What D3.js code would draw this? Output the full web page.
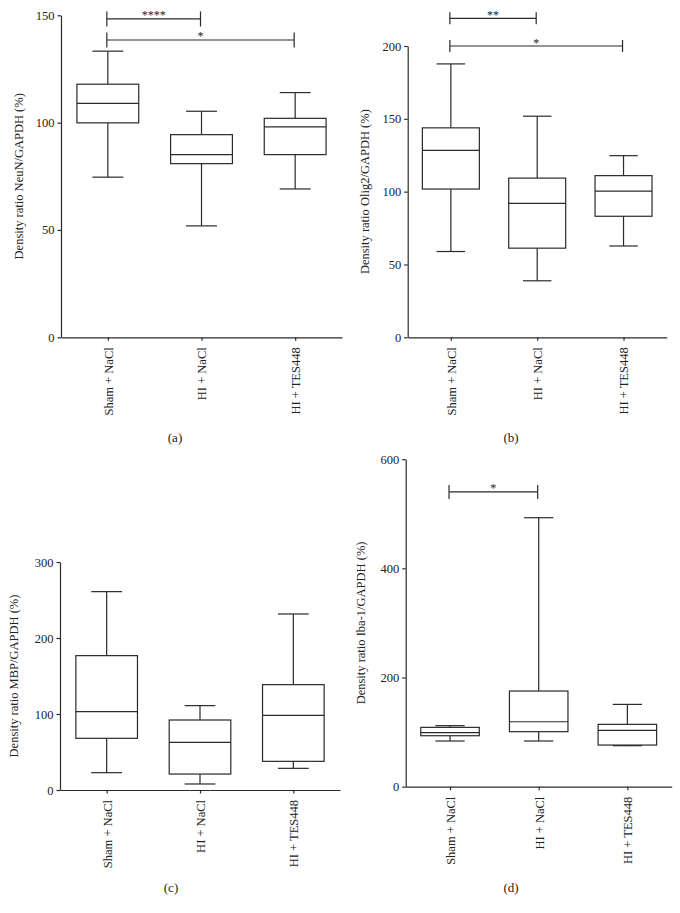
<!DOCTYPE html>
<html>
<head>
<meta charset="utf-8">
<script src="https://cdn.jsdelivr.net/npm/d3@7"></script>
<style>
  html, body { margin: 0; padding: 0; background: #fff; }
  svg { display: block; font-family: "Liberation Serif", "DejaVu Serif", serif; }
</style>
</head>
<body>
<svg id="chart" width="680" height="913"></svg>
<script>
// ---- Data ----
const categories = ["Sham + NaCl", "HI + NaCl", "HI + TES448"];

// [whisker low, Q1, median, Q3, whisker high]
const neunStats = [
  [74.6, 99.9, 109.0, 117.9, 133.3],
  [51.9, 80.9, 85.1, 94.4, 105.3],
  [69.1, 85.1, 98.0, 102.0, 114.0]
];
const olig2Stats = [
  [58.9, 101.8, 128.3, 143.8, 187.7],
  [38.8, 61.2, 92.0, 109.3, 151.8],
  [62.7, 83.1, 100.4, 111.0, 124.7]
];
const mbpStats = [
  [22.8, 68.0, 103.0, 176.8, 261.0],
  [7.9, 21.0, 62.7, 92.1, 111.0],
  [28.5, 37.7, 98.2, 138.6, 231.6]
];
const iba1Stats = [
  [83.7, 93.4, 98.9, 108.7, 111.8],
  [83.7, 100.8, 119.0, 175.3, 492.8],
  [75.1, 76.3, 103.2, 114.2, 150.8]
];

const neunTicks = [0, 50, 100, 150];
const olig2Ticks = [0, 50, 100, 150, 200];
const mbpTicks = [0, 100, 200, 300];
const iba1Ticks = [0, 200, 400, 600];

// significance brackets: [from index, to index, level value, label]
const neunSig = [[0, 1, 148.3, "****"], [0, 2, 138.5, "*"]];
const olig2Sig = [[0, 1, 219, "**"], [0, 2, 200, "*"]];
const mbpSig = [];
const iba1Sig = [[0, 1, 540, "*"]];

const yLabels = [
  "Density ratio NeuN/GAPDH (%)",
  "Density ratio Olig2/GAPDH (%)",
  "Density ratio MBP/GAPDH (%)",
  "Density ratio Iba-1/GAPDH (%)"
];
const panelLetters = ["(a)", "(b)", "(c)", "(d)"];

// ---- Layout (positions only) ----
const panels = [
  { stats: neunStats, ticks: neunTicks, sig: neunSig, max: 150, x0: 61, x1: 342, yTop: 15.3, yBot: 337.3, labX: 19, letX: 175, letY: 437, sigH: 7.5 },
  { stats: olig2Stats, ticks: olig2Ticks, sig: olig2Sig, max: 200, x0: 407.7, x1: 666.7, yTop: 46, yBot: 337.3, labX: 365, letX: 511, letY: 437, sigH: 6 },
  { stats: mbpStats, ticks: mbpTicks, sig: mbpSig, max: 300, x0: 60, x1: 340, yTop: 562, yBot: 790, labX: 14, letX: 171, letY: 887, sigH: 7 },
  { stats: iba1Stats, ticks: iba1Ticks, sig: iba1Sig, max: 600, x0: 405.7, x1: 671.7, yTop: 459.2, yBot: 786.7, labX: 361, letX: 511, letY: 887, sigH: 7 }
];

const ink = "#2a2a2a";
const sw = 1.2;
const svg = d3.select("#chart");

panels.forEach((p, i) => {
  const g = svg.append("g");
  const x = d3.scalePoint().domain(categories).range([p.x0, p.x1]).padding(0.5);
  const y = d3.scaleLinear().domain([0, p.max]).range([p.yBot, p.yTop]);
  const step = x.step();
  const bw = step * 0.66;
  const cw = step * 0.33;

  // axes
  const yAxis = g.append("g").attr("transform", `translate(${p.x0},0)`)
    .call(d3.axisLeft(y).tickValues(p.ticks).tickSize(3.5).tickSizeOuter(0).tickPadding(3));
  const xAxis = g.append("g").attr("transform", `translate(0,${p.yBot})`)
    .call(d3.axisBottom(x).tickSize(3.5).tickSizeOuter(0).tickPadding(7));
  [yAxis, xAxis].forEach(a => {
    a.selectAll("path.domain").attr("stroke", ink).attr("stroke-width", sw);
    a.selectAll(".tick line").attr("stroke", ink).attr("stroke-width", sw);
    a.selectAll(".tick text").attr("fill", "#222").style("font-size", "12.5px")
      .style("font-family", '"Liberation Serif", serif');
  });
  xAxis.selectAll(".tick text")
    .attr("transform", "rotate(-90)")
    .attr("text-anchor", "end")
    .attr("x", -10).attr("y", 0).attr("dy", "0.35em");

  // boxes
  const bx = g.append("g").attr("fill", "none").attr("stroke", ink).attr("stroke-width", sw);
  p.stats.forEach((s, j) => {
    const cx = x(categories[j]);
    const [lo, q1, md, q3, hi] = s;
    bx.append("line").attr("x1", cx).attr("x2", cx).attr("y1", y(hi)).attr("y2", y(q3));
    bx.append("line").attr("x1", cx).attr("x2", cx).attr("y1", y(q1)).attr("y2", y(lo));
    bx.append("line").attr("x1", cx - cw / 2).attr("x2", cx + cw / 2).attr("y1", y(hi)).attr("y2", y(hi));
    bx.append("line").attr("x1", cx - cw / 2).attr("x2", cx + cw / 2).attr("y1", y(lo)).attr("y2", y(lo));
    bx.append("rect").attr("x", cx - bw / 2).attr("width", bw)
      .attr("y", y(q3)).attr("height", y(q1) - y(q3)).attr("fill", "#fff");
    bx.append("line").attr("x1", cx - bw / 2).attr("x2", cx + bw / 2).attr("y1", y(md)).attr("y2", y(md));
  });

  // significance brackets
  p.sig.forEach(([a, b, v, lab]) => {
    const xa = x(categories[a]) - 1, xb = x(categories[b]) - 1, yy = y(v);
    const sg = g.append("g").attr("stroke", ink).attr("stroke-width", sw);
    sg.append("line").attr("x1", xa).attr("x2", xb).attr("y1", yy).attr("y2", yy);
    sg.append("line").attr("x1", xa).attr("x2", xa).attr("y1", yy - p.sigH).attr("y2", yy + p.sigH);
    sg.append("line").attr("x1", xb).attr("x2", xb).attr("y1", yy - p.sigH).attr("y2", yy + p.sigH);
    g.append("text").attr("x", (xa + xb) / 2).attr("y", yy + 0.5)
      .attr("text-anchor", "middle").attr("fill", "#222").style("font-size", "12px").text(lab);
  });

  // y label
  g.append("text")
    .attr("transform", `translate(${p.labX},${(p.yTop + p.yBot) / 2}) rotate(-90)`)
    .attr("text-anchor", "middle").attr("dy", "0.35em")
    .attr("fill", "#222").style("font-size", "12.5px").text(yLabels[i]);

  // panel letter
  g.append("text").attr("x", p.letX).attr("y", p.letY).attr("dy", "0.35em")
    .attr("text-anchor", "middle").attr("fill", "#222").style("font-size", "13px").text(panelLetters[i]);
});
</script>
</body>
</html>
